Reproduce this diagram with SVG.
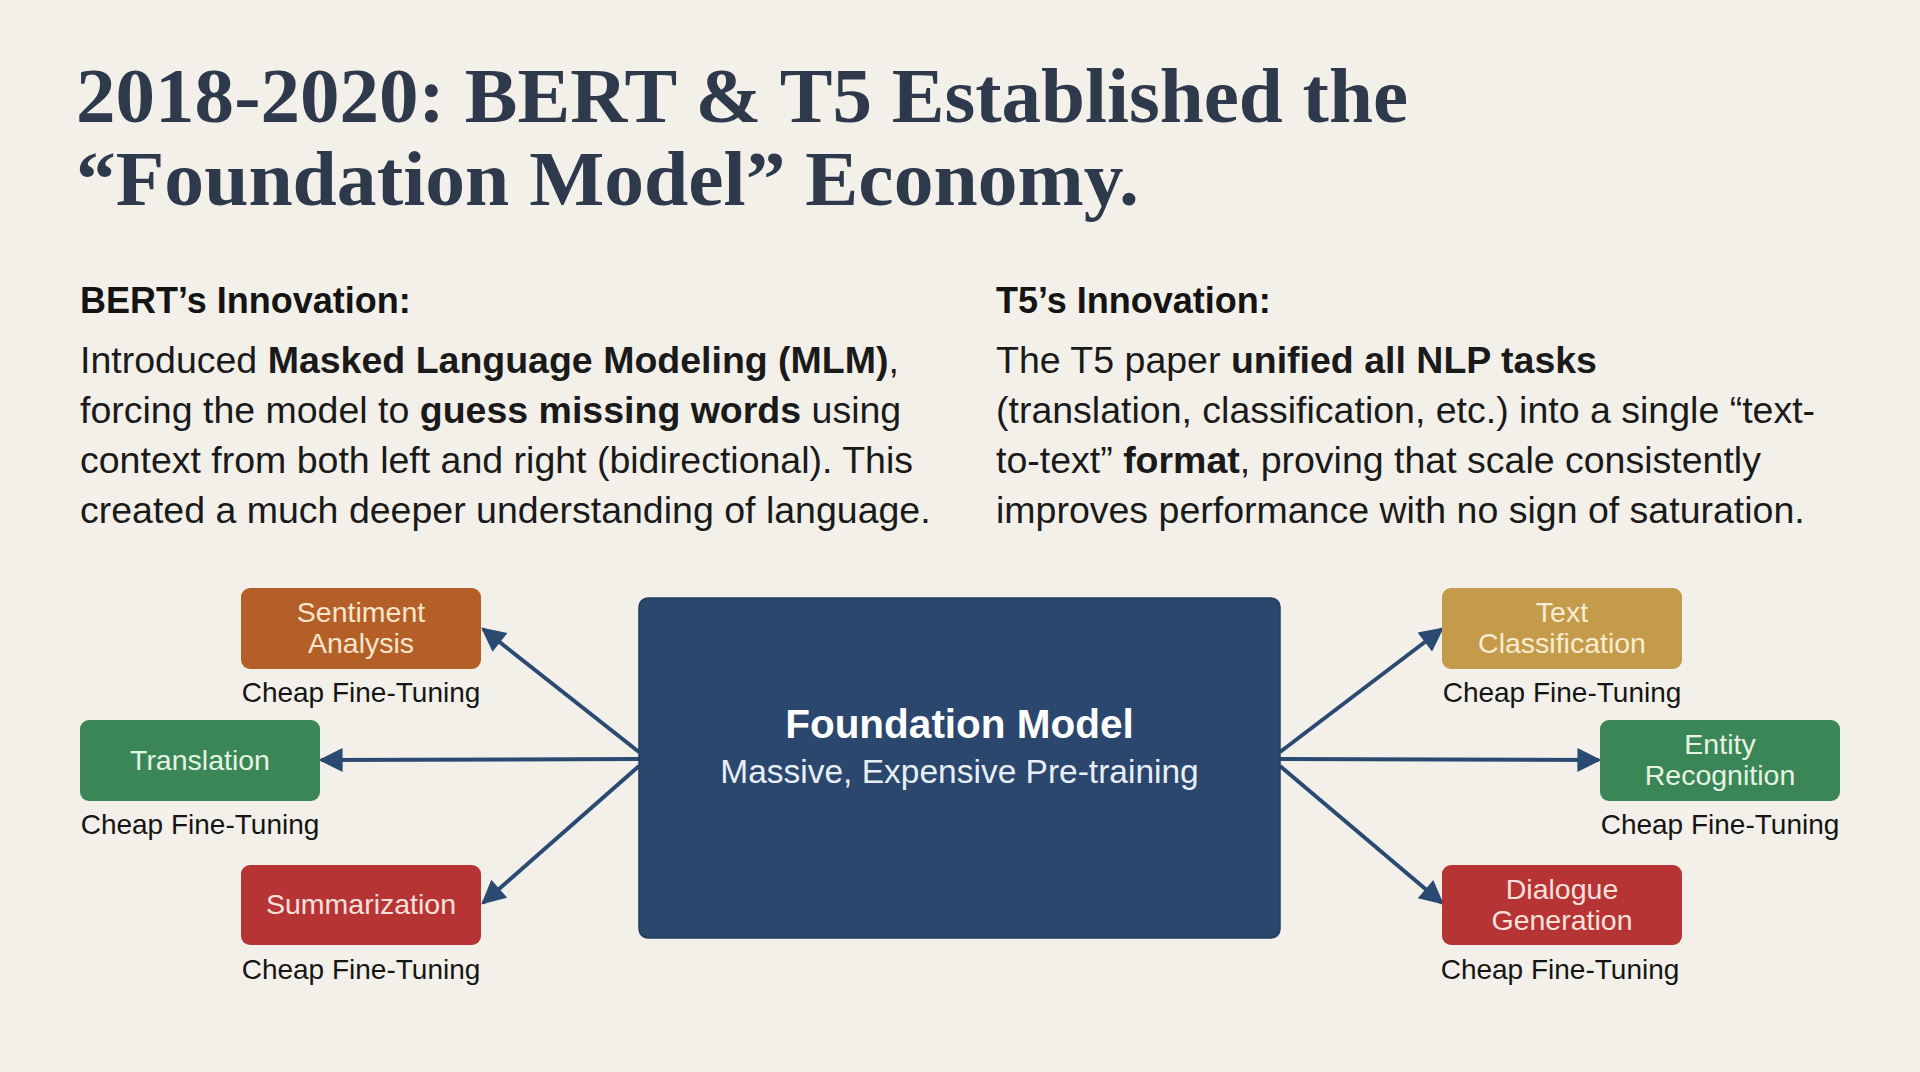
<svg xmlns="http://www.w3.org/2000/svg" width="1920" height="1072" viewBox="0 0 1920 1072">
<defs>
<style>
.title{font-family:"Liberation Serif","Times New Roman",serif;font-weight:bold;font-size:78px;fill:#2e3a4b}
.sub{font-family:"Liberation Sans",Arial,sans-serif;font-weight:bold;font-size:36px;fill:#141414}
.body{font-family:"Liberation Sans",Arial,sans-serif;font-size:37.5px;fill:#1a1a1a}
.b{font-weight:bold}
.lbl{font-family:"Liberation Sans",Arial,sans-serif;font-size:28.5px;text-anchor:middle}
.cap{font-family:"Liberation Sans",Arial,sans-serif;font-size:28px;fill:#151515;text-anchor:middle}
.conn{stroke:#2b4a72;stroke-width:4;fill:none;marker-end:url(#ah)}
</style>
<marker id="ah" viewBox="0 0 10 10" refX="9" refY="5" markerUnits="userSpaceOnUse" markerWidth="26" markerHeight="24" orient="auto">
<path d="M0,0 L10,5 L0,10 Z" fill="#2b4a72"/>
</marker>
</defs>
<rect width="1920" height="1072" fill="#f3f0ea"/>
<g id="title">
<text class="title" x="76" y="122" textLength="1332" lengthAdjust="spacingAndGlyphs">2018-2020: BERT &amp; T5 Established the</text>
<text class="title" x="76" y="205" textLength="1063" lengthAdjust="spacingAndGlyphs">“Foundation Model” Economy.</text>
</g>
<g id="bert-text">
<text class="sub" x="80" y="313">BERT’s Innovation:</text>
<text class="body" x="80" y="373">Introduced <tspan class="b">Masked Language Modeling (MLM)</tspan>,</text>
<text class="body" x="80" y="423">forcing the model to <tspan class="b">guess missing words</tspan> using</text>
<text class="body" x="80" y="473">context from both left and right (bidirectional). This</text>
<text class="body" x="80" y="523">created a much deeper understanding of language.</text>
</g>
<g id="t5-text">
<text class="sub" x="996" y="313">T5’s Innovation:</text>
<text class="body" x="996" y="373">The T5 paper <tspan class="b">unified all NLP tasks</tspan></text>
<text class="body" x="996" y="423">(translation, classification, etc.) into a single “text-</text>
<text class="body" x="996" y="473">to-text” <tspan class="b">format</tspan>, proving that scale consistently</text>
<text class="body" x="996" y="523">improves performance with no sign of saturation.</text>
</g>
<g id="connectors">
<line class="conn" x1="639" y1="752" x2="483" y2="629"/>
<line class="conn" x1="639" y1="759" x2="321" y2="760"/>
<line class="conn" x1="639" y1="766" x2="483" y2="903"/>
<line class="conn" x1="1280" y1="752" x2="1442" y2="629"/>
<line class="conn" x1="1280" y1="759" x2="1599" y2="760"/>
<line class="conn" x1="1280" y1="766" x2="1442" y2="903"/>
</g>
<g id="foundation">
<rect x="639" y="598" width="641" height="340" rx="9" fill="#2b476d" stroke="#243d5e" stroke-width="1.5"/>
<text x="959.5" y="738" font-family="Liberation Sans,Arial,sans-serif" font-weight="bold" font-size="40.5" fill="#ffffff" text-anchor="middle">Foundation Model</text>
<text x="959.5" y="783" font-family="Liberation Sans,Arial,sans-serif" font-size="33.5" fill="#e8eef5" text-anchor="middle">Massive, Expensive Pre-training</text>
</g>
<g id="sentiment">
<rect x="241" y="588" width="240" height="81" rx="9" fill="#b45f27"/>
<text class="lbl" x="361" y="622" fill="#f8e6cc">Sentiment</text>
<text class="lbl" x="361" y="653" fill="#f8e6cc">Analysis</text>
<text class="cap" x="361" y="702">Cheap Fine-Tuning</text>
</g>
<g id="translation">
<rect x="80" y="720" width="240" height="81" rx="9" fill="#3a8656"/>
<text class="lbl" x="200" y="770" fill="#e6f3e4">Translation</text>
<text class="cap" x="200" y="834">Cheap Fine-Tuning</text>
</g>
<g id="summarization">
<rect x="241" y="865" width="240" height="80" rx="9" fill="#b73434"/>
<text class="lbl" x="361" y="914" fill="#f8e0dc">Summarization</text>
<text class="cap" x="361" y="979">Cheap Fine-Tuning</text>
</g>
<g id="text-classification">
<rect x="1442" y="588" width="240" height="81" rx="9" fill="#c49b4b"/>
<text class="lbl" x="1562" y="622" fill="#f8ecd2">Text</text>
<text class="lbl" x="1562" y="653" fill="#f8ecd2">Classification</text>
<text class="cap" x="1562" y="702">Cheap Fine-Tuning</text>
</g>
<g id="entity-recognition">
<rect x="1600" y="720" width="240" height="81" rx="9" fill="#3a8656"/>
<text class="lbl" x="1720" y="754" fill="#e6f3e4">Entity</text>
<text class="lbl" x="1720" y="785" fill="#e6f3e4">Recognition</text>
<text class="cap" x="1720" y="834">Cheap Fine-Tuning</text>
</g>
<g id="dialogue-generation">
<rect x="1442" y="865" width="240" height="80" rx="9" fill="#b73434"/>
<text class="lbl" x="1562" y="899" fill="#f8e0dc">Dialogue</text>
<text class="lbl" x="1562" y="930" fill="#f8e0dc">Generation</text>
<text class="cap" x="1560" y="979">Cheap Fine-Tuning</text>
</g>
</svg>
